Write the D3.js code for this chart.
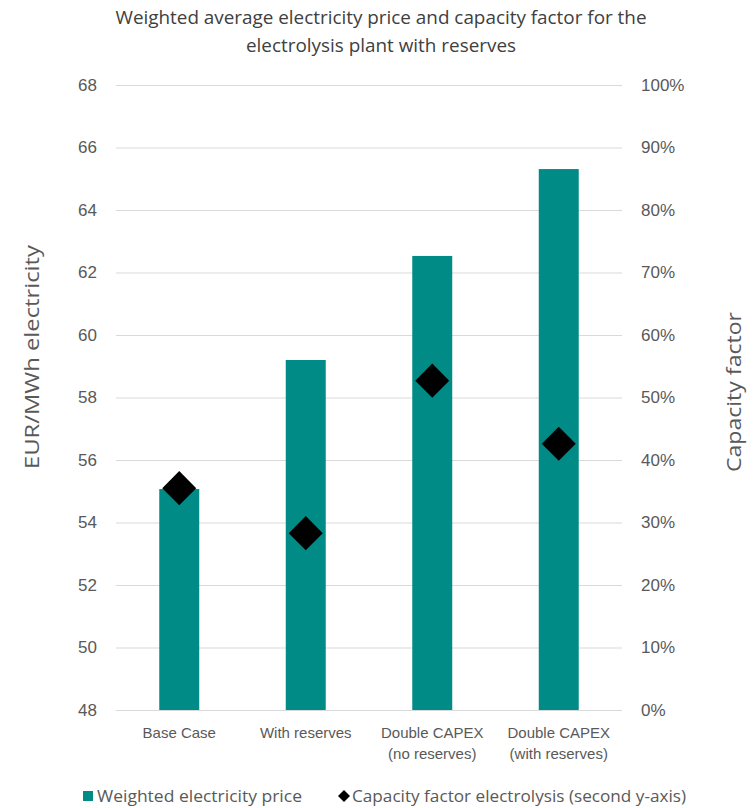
<!DOCTYPE html>
<html>
<head>
<meta charset="utf-8">
<script src="https://cdn.jsdelivr.net/npm/d3@7"></script>
<style>
  html, body { margin: 0; padding: 0; background: #fff; }
  svg { display: block; font-family: "Open Sans", "Noto Sans", sans-serif; }
</style>
</head>
<body>
<svg id="chart" width="754" height="808"></svg>
<script>
// Scenarios on the x axis
const categories = ["Base Case", "With reserves", "Double CAPEX\n(no reserves)", "Double CAPEX\n(with reserves)"];
// Weighted electricity price, EUR/MWh (left axis)
const priceValues = [55.07, 59.2, 62.53, 65.31];
// Capacity factor of the electrolysis plant (right axis, share)
const capacityValues = [0.355, 0.283, 0.527, 0.426];
// Axis ticks
const leftTicks = [48, 50, 52, 54, 56, 58, 60, 62, 64, 66, 68];
const rightTicks = [0, 0.1, 0.2, 0.3, 0.4, 0.5, 0.6, 0.7, 0.8, 0.9, 1.0];
const titleLines = ["Weighted average electricity price and capacity factor for the", "electrolysis plant with reserves"];
const legendLabels = ["Weighted electricity price", "Capacity factor electrolysis (second y-axis)"];

const svg = d3.select("#chart");
const textColor = "#595959";
const gridColor = "#d9d9d9";
const barColor = "#008B87";

const plot = { left: 116, right: 622, top: 85, bottom: 710 };
const plotW = plot.right - plot.left;

const x = d3.scaleBand()
  .domain(categories)
  .range([plot.left, plot.right])
  .paddingInner(0.684)
  .paddingOuter(0.342);
const yLeft = d3.scaleLinear().domain([48, 68]).range([plot.bottom, plot.top]);
const yRight = d3.scaleLinear().domain([0, 1]).range([plot.bottom, plot.top]);

// Title
svg.append("g").selectAll("text")
  .data(titleLines)
  .join("text")
  .attr("x", 381)
  .attr("y", (d, i) => 24 + i * 28)
  .attr("text-anchor", "middle")
  .attr("fill", "#404040")
  .attr("font-size", 19)
  .attr("textLength", (d, i) => i === 0 ? 531 : 270)
  .attr("lengthAdjust", "spacingAndGlyphs")
  .text(d => d);

// Gridlines
const grid = svg.append("g")
  .attr("transform", `translate(${plot.left},0)`)
  .call(d3.axisLeft(yLeft).tickValues(leftTicks).tickSize(-plotW).tickFormat(""));
grid.select(".domain").remove();
grid.selectAll("line").attr("stroke", gridColor).attr("stroke-width", 1);

// Left axis labels
const axL = svg.append("g")
  .attr("transform", `translate(${plot.left},0)`)
  .call(d3.axisLeft(yLeft).tickValues(leftTicks).tickSize(0).tickPadding(19).tickFormat(d3.format("d")));
axL.select(".domain").remove();
axL.selectAll("text").attr("font-size", 17).attr("fill", textColor).attr("font-family", null);

// Right axis labels
const axR = svg.append("g")
  .attr("transform", `translate(${plot.right},0)`)
  .call(d3.axisRight(yRight).tickValues(rightTicks).tickSize(0).tickPadding(19).tickFormat(d3.format(".0%")));
axR.select(".domain").remove();
axR.selectAll("text").attr("font-size", 17).attr("fill", textColor).attr("font-family", null);

// Bars
svg.append("g").selectAll("rect")
  .data(priceValues)
  .join("rect")
  .attr("x", (d, i) => x(categories[i]))
  .attr("width", x.bandwidth())
  .attr("y", d => yLeft(d))
  .attr("height", d => yLeft(48) - yLeft(d))
  .attr("fill", barColor);

// Category axis
const axB = svg.append("g")
  .attr("transform", `translate(0,${plot.bottom})`)
  .call(d3.axisBottom(x).tickSize(0).tickFormat(""));
axB.select(".domain").attr("stroke", gridColor).attr("d", `M${plot.left},0.5H${plot.right}`);
axB.selectAll(".tick").each(function(d) {
  const t = d3.select(this).append("text")
    .attr("fill", textColor)
    .attr("font-size", 15)
    .attr("text-anchor", "middle");
  d.split("\n").forEach((line, j) => {
    t.append("tspan").attr("x", 0).attr("y", 28 + j * 21).text(line);
  });
});

// Capacity factor markers (diamonds)
const diamond = d3.symbol().type(d3.symbolDiamond2).size(737);
svg.append("g").selectAll("path")
  .data(capacityValues)
  .join("path")
  .attr("d", diamond)
  .attr("transform", (d, i) => `translate(${x(categories[i]) + x.bandwidth() / 2},${yRight(d)})`)
  .attr("fill", "#000");

// Axis titles
svg.append("text")
  .attr("transform", "translate(39,357) rotate(-90)")
  .attr("text-anchor", "middle")
  .attr("fill", textColor)
  .attr("font-size", 20)
  .attr("textLength", 224)
  .attr("lengthAdjust", "spacingAndGlyphs")
  .text("EUR/MWh electricity");
svg.append("text")
  .attr("transform", "translate(741,392) rotate(-90)")
  .attr("text-anchor", "middle")
  .attr("fill", textColor)
  .attr("font-size", 20)
  .attr("textLength", 160)
  .attr("lengthAdjust", "spacingAndGlyphs")
  .text("Capacity factor");

// Legend
const leg = svg.append("g");
leg.append("rect").attr("x", 83).attr("y", 791).attr("width", 10).attr("height", 10).attr("fill", barColor);
leg.append("text").attr("x", 97).attr("y", 802).attr("font-size", 16).attr("fill", textColor)
  .attr("textLength", 205).attr("lengthAdjust", "spacingAndGlyphs").text(legendLabels[0]);
leg.append("path")
  .attr("d", d3.symbol().type(d3.symbolDiamond2).size(92))
  .attr("transform", "translate(344,796)")
  .attr("fill", "#000");
leg.append("text").attr("x", 352).attr("y", 802).attr("font-size", 16).attr("fill", textColor)
  .attr("textLength", 334).attr("lengthAdjust", "spacingAndGlyphs").text(legendLabels[1]);
</script>
</body>
</html>
